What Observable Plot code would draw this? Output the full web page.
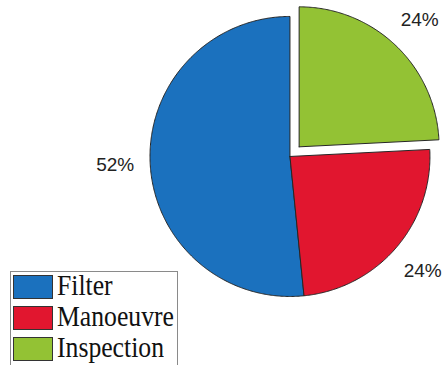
<!DOCTYPE html>
<html>
<head>
<meta charset="utf-8">
<script src="https://cdn.jsdelivr.net/npm/d3@7"></script>
<script src="https://cdn.jsdelivr.net/npm/@observablehq/plot@0.6"></script>
<style>
  html, body { margin: 0; padding: 0; background: #fff; }
  #wrap { position: relative; width: 444px; height: 365px; overflow: hidden; }
  #legend {
    position: absolute; left: 10px; top: 271px; width: 168px; height: 110px;
    border: 1px solid #8a8a8a; background: #fff; box-sizing: border-box;
  }
  .row { position: absolute; left: 2px; height: 23px; display: flex; align-items: flex-start; }
  .sw { width: 38px; height: 22px; border: 1px solid #333; box-sizing: content-box; flex: none; }
  .lab { display: inline-block; font-family: "Liberation Serif", "Times New Roman", serif; font-size: 24px;
         line-height: 24px; margin-left: 4px; margin-top: 1px; color: #111; white-space: nowrap;
         transform: scale(1.07, 1.22); transform-origin: left bottom; }
</style>
</head>
<body>
<div id="wrap"><div id="chart"></div><div id="legend"></div></div>
<script>
// ---- data ----
const categories = ["Filter", "Manoeuvre", "Inspection"];
const shares = [51.6, 24.2, 24.2];
const pctLabels = ["52%", "24%", "24%"];
const colors = ["#1b71be", "#e1162f", "#93c234"];
const exploded = [0, 0, 1];

// ---- geometry (unit radius, angle clockwise from 12 o'clock) ----
const explodeDist = 0.095;
const labelR = 1.25;
const pie = d3.pie().sort(null).startAngle(2 * Math.PI).endAngle(0);
const arcs = pie(shares);

const slicePts = [];
const labelPts = [];
arcs.forEach((a, i) => {
  const mid = (a.startAngle + a.endAngle) / 2;
  const ox = exploded[i] ? explodeDist * Math.sin(mid) : 0;
  const oy = exploded[i] ? explodeDist * Math.cos(mid) : 0;
  const cat = categories[i];
  slicePts.push({cat, x: ox, y: oy});
  const n = Math.max(2, Math.ceil(Math.abs(a.endAngle - a.startAngle) / (Math.PI / 360)));
  for (let k = 0; k <= n; k++) {
    const t = a.startAngle + (a.endAngle - a.startAngle) * k / n;
    slicePts.push({cat, x: ox + Math.sin(t), y: oy + Math.cos(t)});
  }
  slicePts.push({cat, x: ox, y: oy});
  labelPts.push({text: pctLabels[i], x: ox + labelR * Math.sin(mid), y: oy + labelR * Math.cos(mid)});
});

const chart = Plot.plot({
  width: 444,
  height: 365,
  margin: 0,
  style: {background: "#fff"},
  x: {axis: null, domain: [-2.068, 1.104]},
  y: {axis: null, domain: [-1.493, 1.114]},
  color: {domain: categories, range: colors},
  marks: [
    Plot.line(slicePts, {x: "x", y: "y", z: "cat", fill: "cat", stroke: "#262626", strokeWidth: 1, curve: "linear"}),
    Plot.text(labelPts, {x: "x", y: "y", text: "text", fontSize: 19,
      fontFamily: "'Liberation Sans', Arial, sans-serif", fill: "#222"})
  ]
});
document.getElementById("chart").appendChild(chart);

// ---- legend ----
const legend = document.getElementById("legend");
categories.forEach((c, i) => {
  const row = document.createElement("div");
  row.className = "row";
  row.style.top = (3 + i * 31) + "px";
  const sw = document.createElement("div");
  sw.className = "sw";
  sw.style.background = colors[i];
  const lab = document.createElement("span");
  lab.className = "lab";
  lab.textContent = c;
  row.appendChild(sw);
  row.appendChild(lab);
  legend.appendChild(row);
});
</script>
</body>
</html>
